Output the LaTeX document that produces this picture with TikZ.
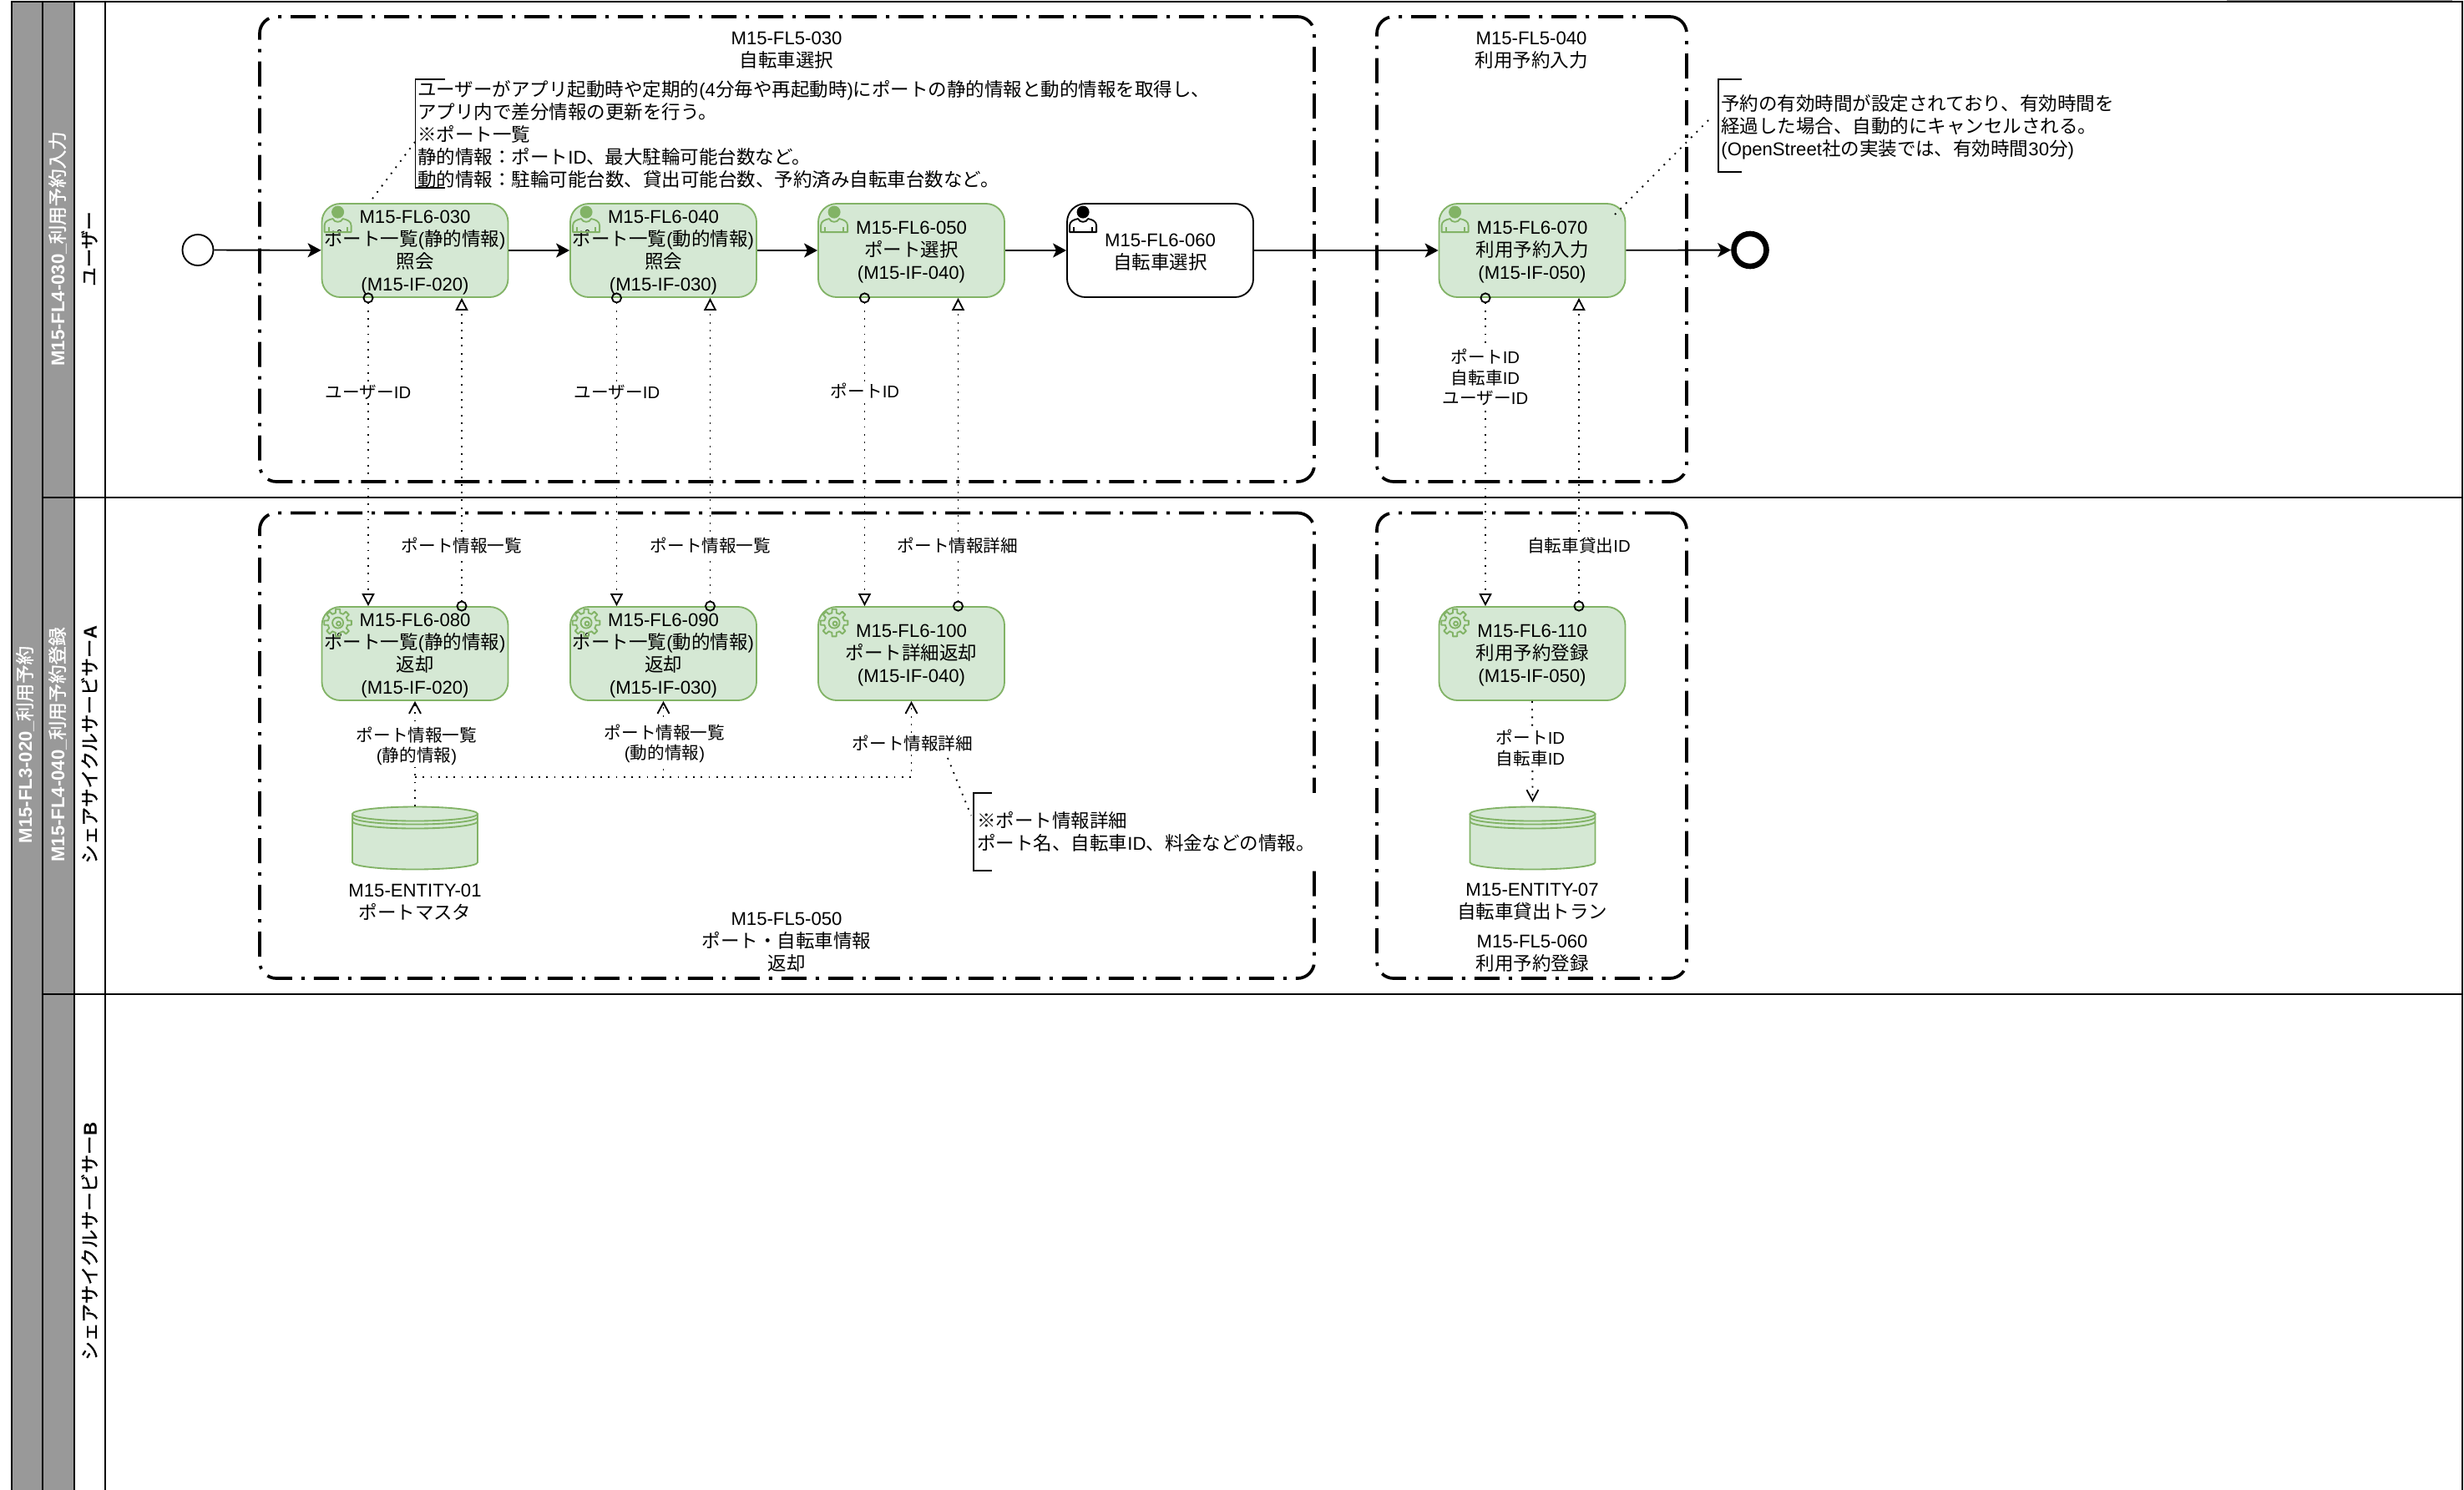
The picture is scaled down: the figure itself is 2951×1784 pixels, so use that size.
\documentclass[tikz,border=0pt]{standalone}
\usepackage{fontspec}
\usetikzlibrary{arrows.meta,calc}
\setmainfont{Liberation Sans}
\newfontfamily\latinf{Liberation Sans}
\newfontfamily\cjkf[Scale=1.016,BoldFont={Noto Sans CJK JP},BoldFeatures={FakeBold=1.2}]{Noto Sans CJK JP}
\XeTeXinterchartokenstate=1
\newXeTeXintercharclass\cjkclass
\newcount\ccnt
\def\setcjkrange#1#2{\ccnt=#1\relax\loop\ifnum\ccnt<#2\relax\XeTeXcharclass\ccnt=\cjkclass\advance\ccnt by 1\repeat}
\setcjkrange{"3000}{"3100}
\setcjkrange{"4E00}{"A000}
\setcjkrange{"FF00}{"FFF0}
\XeTeXcharclass"203B=\cjkclass
\XeTeXinterchartoks 0 \cjkclass={\cjkf}
\XeTeXinterchartoks 4095 \cjkclass={\cjkf}
\XeTeXinterchartoks \cjkclass 0={\latinf}
\XeTeXinterchartoks \cjkclass 4095={\latinf}
\newcommand\tstrut{\rule{0pt}{10pt}}
\definecolor{gfill}{HTML}{D5E8D4}
\definecolor{gline}{HTML}{82B366}
\definecolor{lanegray}{HTML}{999999}
\tikzset{
  x=0.5pt,y=-0.5pt,
  thinline/.style={line width=0.925pt},
  lanefill/.style={thinline,draw=black,fill=lanegray},
  laneplain/.style={thinline,draw=black,fill=white},
  lanehead/.style={font=\fontsize{11.07}{13.5}\bfseries\selectfont,rotate=90,inner sep=0pt},
  grp/.style={draw=black,line width=1.85pt,rounded corners=10pt,inner sep=0pt,
    dash pattern=on 15pt off 5.5pt on 2pt off 5.5pt},
  task/.style={rectangle,draw=gline,fill=gfill,thinline,rounded corners=11pt,inner sep=0pt,
    minimum width=111.5pt,minimum height=56pt,align=center,
    font=\fontsize{11.07}{13.5}\selectfont},
  plaintask/.style={task,draw=black,fill=white},
  txt/.style={font=\fontsize{11.07}{13.5}\selectfont,align=center,inner sep=0pt},
  note/.style={font=\fontsize{11.07}{13.5}\selectfont,align=left,inner sep=0pt,anchor=west},
  lab/.style={font=\fontsize{10.15}{12.2}\selectfont,align=center,inner sep=1pt,fill=white},
  flow/.style={thinline,draw=black,-{Stealth[length=8pt,width=8.5pt,inset=2pt]}},
  dotline/.style={thinline,draw=black,dash pattern=on 0.925pt off 3.7pt},
  msgflow/.style={dotline,{Circle[open,length=6.5pt,width=6.5pt]}-{Triangle[open,length=7.5pt,width=7.5pt]},shorten <=-3.25pt},
  opentip/.style={dotline,-{Straight Barb[length=6.5pt,width=7pt]}},
  usericon/.pic={
    \fill (20,11) circle[radius=7.5];
    \draw[thinline,fill=none,line join=round] (4,35) -- (4,27) .. controls (4,22) and (9,20) .. (14,19)
      .. controls (16,24) and (24,24) .. (26,19) .. controls (31,20) and (36,22) .. (36,27) -- (36,35) -- cycle;
    \draw[thinline] (9,35) -- (9,29) (31,35) -- (31,29);
  },
  gearicon/.pic={
    \begin{scope}[shift={(20,20)}]
    \foreach \a in {0,45,...,315}{
      \draw[thinline,line join=round,fill=none] (\a-22.5:12) -- (\a-13:12) -- (\a-9:16.5) -- (\a+9:16.5) -- (\a+13:12) -- (\a+22.5:12);
    }
    \draw[thinline,fill=none] (0,0) circle[radius=6.5];
    \draw[thinline,fill=none] (1,1) circle[radius=2.5];
    \end{scope}
  },
  datastore/.pic={
    \draw[thinline,draw=gline,fill=gfill] (-75,-29) -- (-75,29) arc[start angle=180,end angle=0,x radius=75,y radius=8.5] -- (75,-29);
    \draw[thinline,draw=gline,fill=gfill] (0,-29) ellipse[x radius=75,y radius=8.5];
    \draw[thinline,draw=gline] (-75,-25) arc[start angle=180,end angle=0,x radius=75,y radius=8.5];
    \draw[thinline,draw=gline] (-75,-20) arc[start angle=180,end angle=0,x radius=75,y radius=8.5];
  },
}
\begin{document}
\begin{tikzpicture}
\useasboundingbox[fill=white] (0,0) rectangle (2951,1784);
\clip (0,0) rectangle (2951,1784);
% top-edge clipped shape
\fill[lanegray] (2667,0) rectangle (2937,2);
% swimlanes
\draw[thinline] (126,2) rectangle (2949,596);
\draw[thinline] (126,596) rectangle (2949,1191);
\draw[thinline] (126,1191) rectangle (2949,1800);
\draw[thinline] (14,2) -- (2949,2);
\draw[lanefill] (14,2) rectangle (51,1800);
\draw[lanefill] (51,2) rectangle (89,596);
\draw[lanefill] (51,596) rectangle (89,1191);
\draw[lanefill] (51,1191) rectangle (89,1800);
\draw[laneplain] (89,2) rectangle (126,596);
\draw[laneplain] (89,596) rectangle (126,1191);
\draw[laneplain] (89,1191) rectangle (126,1800);
\node[lanehead,text=white] (l1) at (30,892) {M15-FL3-020\_利用予約};
\node[lanehead,text=white] (l2) at (69,298) {M15-FL4-030\_利用予約入力};
\node[lanehead,text=white] (l3) at (69,892) {M15-FL4-040\_利用予約登録};
\node[lanehead] (l4) at (107,298) {ユーザー};
\node[lanehead] (l5) at (107,892) {シェアサイクルサービサーA};
\node[lanehead] (l6) at (107,1487) {シェアサイクルサービサーB};
% groups
\node[grp,minimum width=631.5pt,minimum height=278.5pt] (g1) at (942.5,298.5) {};
\node[grp,minimum width=185.5pt,minimum height=278.5pt] (g2) at (1834.5,298.5) {};
\node[grp,minimum width=631.5pt,minimum height=278.75pt] (g3) at (942.5,893.25) {};
\node[grp,minimum width=185.5pt,minimum height=278.75pt] (g4) at (1834.5,893.25) {};
\node[txt] (g1t) at (942,60) {M15-FL5-030\\自転車選択};
\node[txt] (g2t) at (1834,60) {M15-FL5-040\\利用予約入力};
\node[txt] (g3t) at (942,1128.5) {M15-FL5-050\\ポート・自転車情報\\返却};
\node[txt] (g4t) at (1835,1142) {M15-FL5-060\\利用予約登録};
% events
\node[circle,draw=black,thinline,fill=white,minimum size=18.5pt,inner sep=0pt] (s) at (237,299.5) {};
\node[circle,draw=black,line width=3.3pt,fill=white,minimum size=19.5pt,inner sep=0pt] (en) at (2096,299.5) {};
% tasks
\node[task] (t1) at (497,300) {\tstrut M15-FL6-030\\ポート一覧(静的情報)\\照会\\(M15-IF-020)};
\node[task] (t2) at (794.5,300) {\tstrut M15-FL6-040\\ポート一覧(動的情報)\\照会\\(M15-IF-030)};
\node[task] (t3) at (1091.5,300) {\tstrut M15-FL6-050\\ポート選択\\(M15-IF-040)};
\node[plaintask] (t4) at (1389.5,300) {\tstrut M15-FL6-060\\自転車選択};
\node[task] (t5) at (1835,300) {\tstrut M15-FL6-070\\利用予約入力\\(M15-IF-050)};
\node[task] (b1) at (497,783) {\tstrut M15-FL6-080\\ポート一覧(静的情報)\\返却\\(M15-IF-020)};
\node[task] (b2) at (794.5,783) {\tstrut M15-FL6-090\\ポート一覧(動的情報)\\返却\\(M15-IF-030)};
\node[task] (b3) at (1091.5,783) {\tstrut M15-FL6-100\\ポート詳細返却\\(M15-IF-040)};
\node[task] (b4) at (1835,783) {\tstrut M15-FL6-110\\利用予約登録\\(M15-IF-050)};
% icons
\foreach \n in {t1,t2,t3,t5}{\pic[draw=gline,fill=gline] at (\n.north west) {usericon};}
\pic[draw=black,fill=black] at (t4.north west) {usericon};
\foreach \n in {b1,b2,b3,b4}{\pic[draw=gline,fill=gline] at (\n.north west) {gearicon};}
% data stores
\node[minimum width=75pt,minimum height=37.5pt,inner sep=0pt] (e1) at (497,1004) {};
\node[minimum width=75pt,minimum height=37.5pt,inner sep=0pt] (e2) at (1835.5,1004) {};
\pic at (e1.center) {datastore};
\pic at (e2.center) {datastore};
\node[txt] (e1t) at (497,1080.5) {M15-ENTITY-01\\ポートマスタ};
\node[txt] (e2t) at (1835,1080.5) {M15-ENTITY-07\\自転車貸出トラン};
% sequence flows
\draw[flow] (s) -- (t1);
\draw[flow] (t1) -- (t2);
\draw[flow] (t2) -- (t3);
\draw[flow] (t3) -- (t4);
\draw[flow] (t4) -- (t5);
\draw[flow] (t5) -- (en);
% message flows
\foreach \u/\d in {t1/b1,t2/b2,t3/b3,t5/b4}{
  \draw[msgflow] ([xshift=-28pt]\u.south) -- ([xshift=-28pt]\d.north);
  \draw[msgflow] ([xshift=28pt]\d.north) -- ([xshift=28pt]\u.south);
}
% data flows
\coordinate (j) at (497,931);
\draw[opentip] (e1.north) -- (b1.south);
\draw[opentip] (j) -| (b2.south);
\draw[opentip] (j) -| (b3.south);
\draw[opentip,shorten >=2.5pt] (b4.south) -- (e2.north);
% flow labels
\node[lab] (la1) at (441,469.5) {ユーザーID};
\node[lab] (la2) at (739,469.5) {ユーザーID};
\node[lab] (la3) at (1036,468) {ポートID};
\node[lab] (la4) at (1779,452) {ポートID\\自転車ID\\ユーザーID};
\node[lab] (la5) at (553,654) {ポート情報一覧};
\node[lab] (la6) at (851,654) {ポート情報一覧};
\node[lab] (la7) at (1147,654) {ポート情報詳細};
\node[lab] (la8) at (1891,654) {自転車貸出ID};
\node[lab] (la9) at (499,894) {ポート情報一覧\\(静的情報)};
\node[lab] (la10) at (796,891) {ポート情報一覧\\(動的情報)};
\node[lab] (la11) at (1093,891) {ポート情報詳細};
\node[lab] (la12) at (1833,896) {ポートID\\自転車ID};
% annotations
\coordinate (n1a) at (497,170);
\coordinate (t1a) at (446,238);
\draw[dotline] (t1a) -- (n1a);
\draw[thinline] (533,95) -- (497.5,95) -- (497.5,225) -- (533,225);
\node[note] (n1) at (500,161) {ユーザーがアプリ起動時や定期的(4分毎や再起動時)にポートの静的情報と動的情報を取得し、\\アプリ内で差分情報の更新を行う。\\※ポート一覧\\静的情報：ポートID、最大駐輪可能台数など。\\動的情報：駐輪可能台数、貸出可能台数、予約済み自転車台数など。};
\coordinate (n2a) at (2051,139);
\coordinate (t5a) at (1934,257);
\draw[dotline] (t5a) -- (n2a);
\draw[thinline] (2086,95) -- (2058,95) -- (2058,206) -- (2086,206);
\node[note] (n2) at (2061,152) {予約の有効時間が設定されており、有効時間を\\経過した場合、自動的にキャンセルされる。\\(OpenStreet社の実装では、有効時間30分)};
\fill[white] (1167,950) rectangle (1578,1043);
\coordinate (n3a) at (1163,977);
\coordinate (la11a) at (1135,908);
\draw[dotline] (la11a) -- (n3a);
\draw[thinline] (1188,950) -- (1166,950) -- (1166,1043) -- (1188,1043);
\node[note] (n3) at (1170,996.5) {※ポート情報詳細\\ポート名、自転車ID、料金などの情報。};
\end{tikzpicture}
\end{document}
